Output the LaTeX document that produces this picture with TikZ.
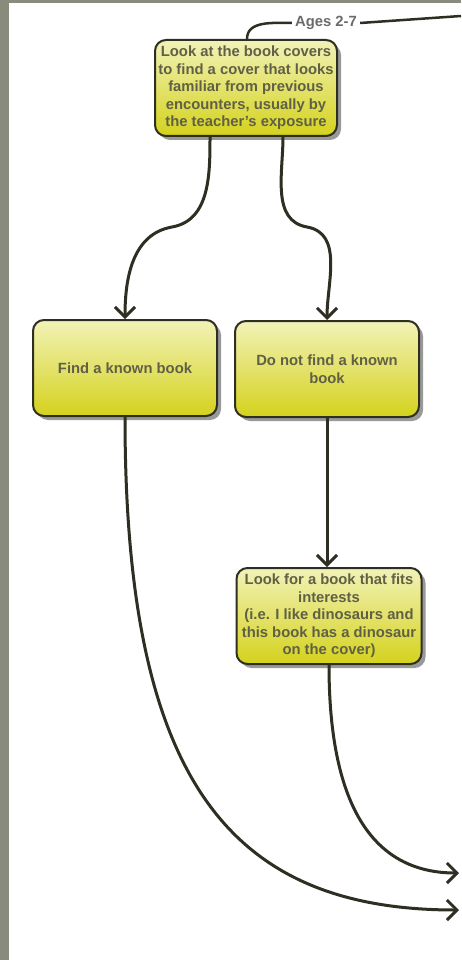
\documentclass[tikz,border=0pt]{standalone}
\usepackage{fontspec}
\setmainfont{Liberation Sans}
\usetikzlibrary{arrows.meta,shadows}

\definecolor{boxtext}{RGB}{96,96,70}
\definecolor{boxline}{RGB}{46,46,34}
\definecolor{boxtop}{RGB}{242,242,184}
\definecolor{boxbot}{RGB}{212,210,28}
\definecolor{frame}{RGB}{137,139,125}

\begin{document}
\begin{tikzpicture}[x=1pt,y=1pt,
  bookbox/.style={draw=boxline,line width=2pt,rounded corners=11pt,
    top color=boxtop,bottom color=boxbot,
    drop shadow={shadow xshift=4pt,shadow yshift=-4pt,fill=black,opacity=0.4},
    minimum width=184pt,minimum height=96pt,inner sep=2pt,align=center,
    text=boxtext,font=\bfseries\fontsize{14.8}{17.5}\selectfont},
  flow/.style={draw=boxline,line width=3pt,-{Straight Barb[length=10pt,width=20pt]}}]

  % frame
  \fill[frame] (0,0) rectangle (461,-960);
  \fill[white] (9,-3) rectangle (461,-960);
  \useasboundingbox (0,0) rectangle (461,-960);

  \node[bookbox,minimum width=182pt] (look) at (246,-88) {Look at the book covers\\to find a cover that looks\\familiar from previous\\encounters, usually by\\the teacher's exposure};
  \node[bookbox] (known) at (125,-368) {Find a known book};
  \node[bookbox] (notknown) at (327,-369) {Do not find a known\\book};
  \node[bookbox,minimum width=185pt] (interests) at (329,-616) {Look for a book that fits\\interests\\(i.e. I like dinosaurs and\\this book has a dinosaur\\on the cover)};

  \node[font=\bfseries\fontsize{14.8}{17}\selectfont,text=black!58,inner sep=3pt] (ages) at (326,-23) {Ages 2-7};
  \coordinate (agesend) at (461,-16);
  \coordinate (exitA) at (459,-873);
  \coordinate (exitB) at (459,-910);

  \draw[boxline,line width=2.5pt] ([xshift=1pt]look.north) to[out=90,in=180] (ages.west);
  \draw[boxline,line width=2.5pt] (ages.east) -- (agesend);

  \draw[flow] ([xshift=-36pt]look.south) to[out=-90,in=10] ++(-38,-90) to[out=190,in=90] (known.north);
  \draw[flow] ([xshift=37pt]look.south) to[out=-90,in=170] ++(24,-90) to[out=-10,in=90] (notknown.north);
  \draw[flow] (notknown.south) -- (notknown.south |- interests.north);
  \draw[flow] (interests.south) .. controls +(0,-136) and +(-89,0) .. (exitA);
  \draw[flow] (known.south) .. controls +(0,-364) and +(-229,0) .. (exitB);

\end{tikzpicture}
\end{document}
